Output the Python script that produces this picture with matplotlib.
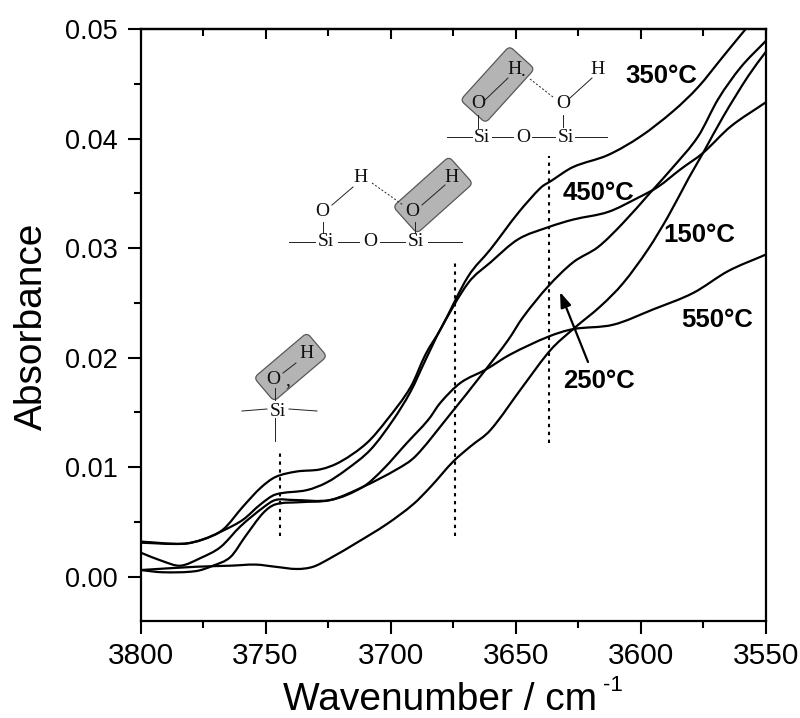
#!/usr/bin/env python3
import matplotlib
matplotlib.use('Agg')
import matplotlib.pyplot as plt
from matplotlib.patches import FancyBboxPatch, PathPatch
from matplotlib.path import Path
from matplotlib.ticker import MultipleLocator, FormatStrFormatter
from matplotlib.transforms import Affine2D

plt.rcParams['font.family'] = ['Liberation Sans', 'DejaVu Sans']

W, H = 800, 718

# curves: wavenumber, absorbance
wn_350 = [3800, 3783, 3775, 3767, 3759, 3752, 3746, 3737.5, 3728, 3720, 3709.5, 3701.5, 3692, 3686, 3680,
          3669, 3660, 3649, 3640, 3636, 3627, 3613, 3600, 3587, 3577, 3567, 3558, 3550]
abs_350 = [0.0032, 0.0030, 0.0034, 0.0043, 0.0064, 0.0081, 0.0091, 0.0096, 0.0098, 0.0105, 0.0122, 0.0143, 0.0173, 0.0203, 0.0226,
           0.0274, 0.0299, 0.0332, 0.0355, 0.0361, 0.0374, 0.0385, 0.0402, 0.0425, 0.0447, 0.0475, 0.0500, 0.0522]

wn_450 = [3800, 3783, 3775, 3767, 3759, 3752, 3746, 3733.5, 3725.5, 3717.5, 3708, 3699, 3692, 3686, 3680,
          3669, 3660, 3649, 3637, 3627, 3613, 3601, 3593, 3584, 3575, 3564, 3550]
abs_450 = [0.0031, 0.0030, 0.0034, 0.0042, 0.0052, 0.0066, 0.0075, 0.0079, 0.0086, 0.0098, 0.0116, 0.0143, 0.0169, 0.0198, 0.0226,
           0.0268, 0.0287, 0.0308, 0.0319, 0.0326, 0.0333, 0.0346, 0.0356, 0.0372, 0.0387, 0.0411, 0.0433]

wn_150 = [3800, 3778, 3764, 3754, 3746, 3737.5, 3731, 3724, 3713.5, 3701.5, 3691, 3684, 3675, 3668,
          3660, 3647, 3636, 3627, 3616, 3607, 3597, 3589, 3581, 3575, 3567, 3557, 3550]
abs_150 = [0.0006, 0.0009, 0.0010, 0.0011, 0.0009, 0.0007, 0.0009, 0.0017, 0.0031, 0.0048, 0.0066, 0.0082, 0.0105, 0.0119,
           0.0134, 0.0174, 0.0207, 0.0226, 0.0247, 0.0268, 0.0299, 0.0329, 0.0363, 0.0387, 0.0420, 0.0457, 0.0479]

wn_250 = [3800, 3791, 3778, 3771, 3764, 3758, 3751, 3746, 3736, 3724, 3711, 3697.5, 3690, 3678,
          3662, 3653, 3647, 3637, 3627, 3617, 3607, 3596, 3587, 3577, 3569, 3560, 3550]
abs_250 = [0.0006, 0.0004, 0.0005, 0.0010, 0.0018, 0.0037, 0.0058, 0.0066, 0.0068, 0.0070, 0.0082, 0.0098, 0.0110, 0.0143,
           0.0189, 0.0216, 0.0237, 0.0265, 0.0287, 0.0301, 0.0323, 0.0351, 0.0374, 0.0402, 0.0436, 0.0465, 0.0489]

wn_550 = [3800, 3791, 3784, 3776, 3768, 3760, 3751, 3746, 3739, 3724, 3711, 3703, 3693.5, 3685, 3680, 3672,
          3662, 3652, 3637, 3627, 3611, 3595, 3579, 3565, 3550]
abs_550 = [0.0022, 0.0014, 0.0010, 0.0017, 0.0027, 0.0046, 0.0063, 0.0070, 0.0070, 0.0070, 0.0082, 0.0098, 0.0122, 0.0143, 0.0159, 0.0177,
           0.0189, 0.0203, 0.0219, 0.0226, 0.0230, 0.0244, 0.0259, 0.0279, 0.0294]

curves = [(wn_350, abs_350), (wn_450, abs_450), (wn_150, abs_150), (wn_250, abs_250), (wn_550, abs_550)]

# dotted guide lines: wavenumber, bottom, top
guide_wn = [3744.4, 3674.2, 3636.5]
guide_lo = [0.0037, 0.0037, 0.0122]
guide_hi = [0.0114, 0.0289, 0.0384]

xticks_major = 50
xticks_minor = 25
yticks_major = 0.01
yticks_minor = 0.005


def smooth_curve(x, y):
    # bezier pieces through the read points, so no kinks between them
    n = len(x)
    slope = [0.0] * n
    for i in range(n):
        a, b = max(i - 1, 0), min(i + 1, n - 1)
        slope[i] = (y[b] - y[a]) / (x[b] - x[a])
    verts = [(x[0], y[0])]
    codes = [Path.MOVETO]
    for i in range(n - 1):
        d = (x[i + 1] - x[i]) / 3
        verts += [(x[i] + d, y[i] + slope[i] * d),
                  (x[i + 1] - d, y[i + 1] - slope[i + 1] * d),
                  (x[i + 1], y[i + 1])]
        codes += [Path.CURVE4] * 3
    return Path(verts, codes)


fig = plt.figure(figsize=(W / 100, H / 100), dpi=100)
ax = fig.add_axes([140.5 / W, 1 - 621 / H, (765.7 - 140.5) / W, (621 - 29) / H])

for x, y in curves:
    ax.add_patch(PathPatch(smooth_curve(x, y), fc='none', ec='black', lw=1.6, joinstyle='round'))

ax.vlines(guide_wn, guide_lo, guide_hi, color='black', lw=1.5, linestyles=(0, (1.6, 2.2)))

ax.set_xlim(3800, 3550)
ax.set_ylim(-0.00405, 0.05)
ax.xaxis.set_major_locator(MultipleLocator(xticks_major))
ax.xaxis.set_minor_locator(MultipleLocator(xticks_minor))
ax.yaxis.set_major_locator(MultipleLocator(yticks_major))
ax.yaxis.set_minor_locator(MultipleLocator(yticks_minor))
ax.yaxis.set_major_formatter(FormatStrFormatter('%.2f'))
ax.tick_params(which='major', direction='out', length=9.4, width=1.5)
ax.tick_params(which='minor', direction='out', length=5.2, width=1.5)
ax.tick_params(axis='x', which='major', labelsize=21.5, pad=6)
ax.tick_params(axis='y', which='major', labelsize=19.5, pad=7)
for s in ax.spines.values():
    s.set_linewidth(1.6)

# top axis has its ticks pointing inward
top = ax.secondary_xaxis('top')
top.xaxis.set_major_locator(MultipleLocator(xticks_major))
top.xaxis.set_minor_locator(MultipleLocator(xticks_minor))
top.tick_params(which='major', direction='in', length=7, width=1.5, labeltop=False)
top.tick_params(which='minor', direction='in', length=5, width=1.5)
top.spines['top'].set_linewidth(1.6)

# overlay in image pixels for the labels and the little molecules
ov = fig.add_axes([0, 0, 1, 1])
ov.set_xlim(0, W)
ov.set_ylim(H, 0)
ov.axis('off')

ov.text(283, 709.5, 'Wavenumber / cm', fontsize=28, ha='left', va='baseline')
ov.text(603, 691, '-1', fontsize=16, ha='left', va='baseline')
ov.text(32, 326, 'Absorbance', fontsize=28, rotation=90, ha='center', va='center')

temp_labels = ['350°C', '450°C', '150°C', '250°C', '550°C']
temp_x = [625, 563, 663, 563, 681]
temp_y = [83, 200, 242, 388, 327]
for t, x, y in zip(temp_labels, temp_x, temp_y):
    ov.text(x, y, t, fontsize=18.5, fontweight='bold', ha='left', va='baseline')

ov.annotate('', xy=(560, 292), xytext=(588, 362),
            arrowprops=dict(arrowstyle='-|>,head_length=0.9,head_width=0.32', color='black', lw=1.6,
                            shrinkA=0, shrinkB=0))


def grey_box(cx, cy, length, thick, angle):
    box = FancyBboxPatch((cx - length / 2 + 5, cy - thick / 2 + 5), length - 10, thick - 10,
                         boxstyle='round,pad=5,rounding_size=5',
                         fc='#b4b4b4', ec='#585858', lw=0.9)
    box.set_transform(Affine2D().rotate_deg_around(cx, cy, angle) + ov.transData)
    ov.add_patch(box)


def atoms(items):
    for x, y, s in items:
        ov.text(x, y, s, family='Liberation Serif', fontsize=14, ha='center', va='center', color='#111111')


def bonds(items, ls='-'):
    for x0, y0, x1, y1 in items:
        ov.plot([x0, x1], [y0, y1], color='#222222', lw=0.7, ls=ls)


grey_box(497.5, 84.5, 73, 34, -47.8)
grey_box(433, 195, 75, 36, -41.8)
grey_box(290.5, 367, 69.5, 31, -40.3)

atoms([(482, 137, 'Si'), (523, 137, 'O'), (566, 137, 'Si'), (478, 104, 'O'), (515, 70, 'H'),
       (563, 104, 'O'), (598, 70, 'H'), (523, 72, '.')])
bonds([(447, 137, 472, 137), (492, 137, 513, 137), (532, 137, 555, 137), (575, 137, 607, 137),
       (478, 115, 478, 128), (563, 115, 563, 127), (485, 100, 508, 78), (570, 98, 592, 78)])
bonds([(530, 79, 553, 97)], ls=(0, (2, 2)))

atoms([(326, 242, 'Si'), (370, 242, 'O'), (416, 242, 'Si'), (322, 212, 'O'), (361, 178, 'H'),
       (412, 212, 'O'), (452, 178, 'H')])
bonds([(289, 242, 315, 242), (338, 242, 359, 242), (380, 242, 405, 242), (428, 242, 462, 242),
       (323, 222, 323, 233), (415, 222, 415, 233), (332, 205, 353, 187), (422, 205, 445, 185)])
bonds([(372, 183, 403, 205)], ls=(0, (2, 2)))

atoms([(278, 412, 'Si'), (273, 380, 'O'), (307, 354, 'H'), (288, 381, ',')])
bonds([(242, 411, 267, 409), (289, 409, 317, 411), (275, 388, 275, 400), (275, 418, 275, 441),
       (283, 373, 296, 363)])

fig.savefig('out.png', dpi=100)
